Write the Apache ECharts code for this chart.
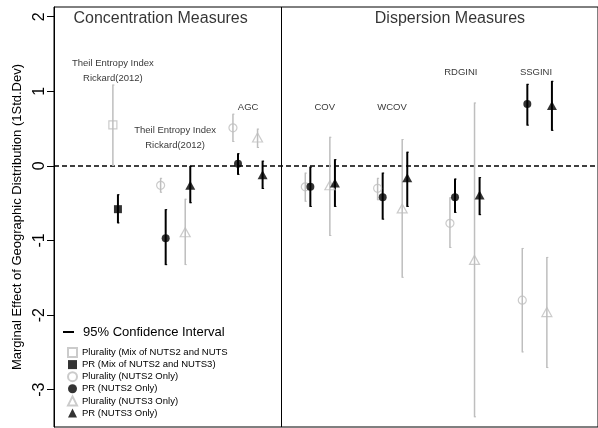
<!DOCTYPE html>
<html>
<head>
<meta charset="utf-8">
<script src="https://cdn.jsdelivr.net/npm/echarts@6/dist/echarts.min.js"></script>
<style>
  html, body { margin: 0; padding: 0; background: #fff; }
  #chart { width: 598px; height: 428px; }
</style>
</head>
<body>
<div id="chart"></div>
<script>
// measure slots along x (Theil mixed sample sits in slot 0)
var measures = ["Theil", "AGC", "COV", "WCOV", "RDGINI", "SSGINI"];
var measureSlot = [1, 2, 3, 4, 5, 6];
var mixSlot = [0];

// Plurality / PR, mixed NUTS2 + NUTS3 (Theil only)
var plurMix = [0.55], plurMixLo = [0.0], plurMixHi = [1.09];
var prMix = [-0.58], prMixLo = [-0.77], prMixHi = [-0.38];

// NUTS2 only
var plurN2 = [-0.26, 0.51, -0.28, -0.30, -0.77, -1.80];
var plurN2Lo = [-0.36, 0.32, -0.48, -0.46, -1.10, -2.50];
var plurN2Hi = [-0.16, 0.70, -0.09, -0.16, -0.42, -1.10];
var prN2 = [-0.97, 0.03, -0.28, -0.42, -0.42, 0.83];
var prN2Lo = [-1.33, -0.12, -0.55, -0.72, -0.63, 0.54];
var prN2Hi = [-0.58, 0.17, -0.01, -0.09, -0.17, 1.10];

// NUTS3 only
var plurN3 = [-0.89, 0.38, -0.26, -0.57, -1.26, -1.96];
var plurN3Lo = [-1.33, 0.24, -0.94, -1.50, -3.37, -2.71];
var plurN3Hi = [-0.44, 0.50, 0.39, 0.36, 0.85, -1.22];
var prN3 = [-0.26, -0.12, -0.23, -0.16, -0.39, 0.81];
var prN3Lo = [-0.50, -0.31, -0.55, -0.55, -0.66, 0.47];
var prN3Hi = [0.0, 0.07, 0.09, 0.19, -0.15, 1.14];

var yTicks = [-3, -2, -1, 0, 1, 2];

var annotations = [
  { name: "Theil Entropy Index\nRickard(2012)", value: [0.34, 1.28] },
  { name: "Theil Entropy Index\nRickard(2012)", value: [1.2, 0.38] },
  { name: "AGC", value: [2.21, 0.79] },
  { name: "COV", value: [3.27, 0.78] },
  { name: "WCOV", value: [4.2, 0.78] },
  { name: "RDGINI", value: [5.15, 1.26] },
  { name: "SSGINI", value: [6.19, 1.26] }
];
var panelTitles = [
  { name: "Concentration Measures", value: [1.0, 1.97] },
  { name: "Dispersion Measures", value: [5.0, 1.97] }
];
var panelSplit = 2.667;

var GRAY = "#bebebe";
var font = "Liberation Sans, Arial, sans-serif";

// dodge within a measure slot
var dPlur3 = 0.34, dPr2 = 0.07, dPr3 = 0.41;

function points(slots, est, dx) {
  return slots.map(function (s, i) { return [s + dx, est[i]]; });
}
function bars(slots, lo, hi, dx) {
  return slots.map(function (s, i) { return [s + dx, lo[i], hi[i]]; });
}

function errorBar(color, width) {
  return function (params, api) {
    var x = api.value(0);
    var a = api.coord([x, api.value(1)]);
    var b = api.coord([x, api.value(2)]);
    var st = { stroke: color, lineWidth: width };
    var cap = { stroke: color, lineWidth: 1 };
    return {
      type: "group",
      children: [
        { type: "line", shape: { x1: a[0], y1: a[1], x2: b[0], y2: b[1] }, style: st },
        { type: "line", shape: { x1: a[0], y1: a[1] - 0.5, x2: a[0] + 1.5, y2: a[1] - 0.5 }, style: cap },
        { type: "line", shape: { x1: b[0], y1: b[1] + 0.5, x2: b[0] + 1.5, y2: b[1] + 0.5 }, style: cap }
      ]
    };
  };
}

var grayBars = []
  .concat(bars(mixSlot, plurMixLo, plurMixHi, dPlur3))
  .concat(bars(measureSlot, plurN2Lo, plurN2Hi, 0))
  .concat(bars(measureSlot, plurN3Lo, plurN3Hi, dPlur3));
var blackBars = []
  .concat(bars(mixSlot, prMixLo, prMixHi, dPr3))
  .concat(bars(measureSlot, prN2Lo, prN2Hi, dPr2))
  .concat(bars(measureSlot, prN3Lo, prN3Hi, dPr3));

var hollow = { color: "rgba(0,0,0,0)", borderColor: GRAY, borderWidth: 1.2 };
var solid = { color: "#000" };

var chart = echarts.init(document.getElementById("chart"));
chart.setOption({
  animation: false,
  textStyle: { fontFamily: font },
  grid: {
    left: 54, right: -2, top: 7, bottom: 1,
    show: true, borderColor: "#000", borderWidth: 1
  },
  legend: [
    {
      data: ["95% Confidence Interval"],
      left: 63, top: 324, padding: 0,
      icon: "rect", itemWidth: 11, itemHeight: 2,
      textStyle: { fontSize: 13, color: "#000", lineHeight: 16, padding: [0, 0, 0, 4] }
    },
    {
      data: [
        "Plurality (Mix of NUTS2 and NUTS",
        "PR (Mix of NUTS2 and NUTS3)",
        "Plurality (NUTS2 Only)",
        "PR (NUTS2 Only)",
        "Plurality (NUTS3 Only)",
        "PR (NUTS3 Only)"
      ],
      orient: "vertical",
      left: 67, top: 347, padding: 0,
      itemWidth: 9, itemHeight: 9, itemGap: 1.6,
      textStyle: { fontSize: 9.5, color: "#000", lineHeight: 10 }
    }
  ],
  xAxis: {
    type: "value", min: -0.474, max: 7.047, show: false
  },
  yAxis: {
    type: "value", min: -3.5, max: 2.13,
    name: "Marginal Effect of Geographic Distribution (1Std.Dev)",
    nameLocation: "middle", nameGap: 30,
    nameTextStyle: { fontSize: 13, color: "#000" },
    axisLine: { show: true, onZero: false, lineStyle: { color: "#000", width: 1 } },
    axisTick: { show: true, length: 7, customValues: yTicks, lineStyle: { color: "#000" } },
    axisLabel: { customValues: yTicks, rotate: 90, margin: 6, fontSize: 16, color: "#000" },
    splitLine: { show: false }
  },
  series: [
    {
      name: "gray-ci", type: "custom", renderItem: errorBar(GRAY, 1.5),
      data: grayBars, z: 1, silent: true
    },
    {
      name: "95% Confidence Interval", type: "custom", renderItem: errorBar("#000", 2),
      data: blackBars, z: 2, itemStyle: { color: "#000" }, silent: true
    },
    {
      name: "Plurality (Mix of NUTS2 and NUTS", type: "scatter", symbol: "rect",
      symbolSize: 8, itemStyle: hollow, z: 3,
      data: points(mixSlot, plurMix, dPlur3)
    },
    {
      name: "PR (Mix of NUTS2 and NUTS3)", type: "scatter", symbol: "rect",
      symbolSize: 8, itemStyle: solid, z: 3,
      data: points(mixSlot, prMix, dPr3)
    },
    {
      name: "Plurality (NUTS2 Only)", type: "scatter", symbol: "circle",
      symbolSize: 8, itemStyle: hollow, z: 3,
      data: points(measureSlot, plurN2, 0)
    },
    {
      name: "PR (NUTS2 Only)", type: "scatter", symbol: "circle",
      symbolSize: 8, itemStyle: solid, z: 3,
      data: points(measureSlot, prN2, dPr2)
    },
    {
      name: "Plurality (NUTS3 Only)", type: "scatter", symbol: "triangle",
      symbolSize: [10, 9], itemStyle: hollow, z: 3,
      data: points(measureSlot, plurN3, dPlur3)
    },
    {
      name: "PR (NUTS3 Only)", type: "scatter", symbol: "triangle",
      symbolSize: [10, 9], itemStyle: solid, z: 3,
      data: points(measureSlot, prN3, dPr3)
    },
    {
      name: "notes", type: "scatter", symbolSize: 0, silent: true, z: 4,
      label: {
        show: true, position: "inside", formatter: "{b}",
        fontSize: 9.5, lineHeight: 15, color: "#000"
      },
      data: annotations
    },
    {
      name: "titles", type: "scatter", symbolSize: 0, silent: true, z: 4,
      label: {
        show: true, position: "inside", formatter: "{b}",
        fontSize: 16, color: "#000"
      },
      data: panelTitles,
      markLine: {
        silent: true, symbol: "none", label: { show: false }, z: 1,
        data: [
          { yAxis: 0, lineStyle: { color: "#000", type: [5, 3], width: 1.5 } },
          { xAxis: panelSplit, lineStyle: { color: "#000", type: "solid", width: 1 } }
        ]
      }
    }
  ]
});
</script>
</body>
</html>
